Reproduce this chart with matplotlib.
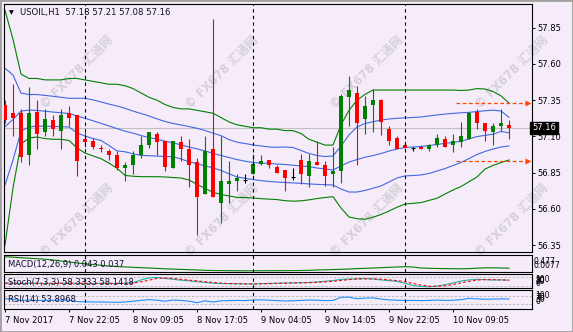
import matplotlib
matplotlib.use('Agg')
import matplotlib.pyplot as plt
from matplotlib.patches import Rectangle

# ---------------- data ----------------
opens = [57.32, 57.26, 57.26, 56.97, 57.27, 57.13, 57.21, 57.14, 57.26, 57.25,
         57.08, 57.07, 57.02, 57.00, 56.97, 56.88, 56.90, 56.97, 57.04, 57.12,
         57.07, 56.88, 57.06, 57.01, 56.92, 56.70, 57.01, 56.64, 56.77, 56.79,
         56.80, 56.84, 56.91, 56.94, 56.89, 56.87, 56.82, 56.94, 56.83, 56.92,
         56.90, 56.84, 56.86, 57.37, 57.40, 57.22, 57.32, 57.35, 57.15, 57.09,
         57.04, 57.02, 57.03, 57.01, 57.04, 57.08, 57.04, 57.06, 57.08, 57.27,
         57.19, 57.13, 57.17, 57.18]
highs = [57.35, 57.46, 57.29, 57.44, 57.35, 57.29, 57.25, 57.29, 57.31, 57.25,
         57.13, 57.09, 57.04, 57.01, 57.00, 56.92, 57.00, 57.10, 57.13, 57.13,
         57.07, 57.07, 57.10, 57.08, 56.95, 57.10, 57.91, 57.10, 56.93, 56.84,
         56.84, 56.98, 56.97, 56.94, 56.90, 56.87, 56.88, 56.98, 56.98, 57.07,
         56.93, 57.03, 57.39, 57.52, 57.45, 57.38, 57.43, 57.36, 57.17, 57.10,
         57.07, 57.03, 57.04, 57.05, 57.12, 57.10, 57.12, 57.20, 57.27, 57.29,
         57.19, 57.19, 57.29, 57.21]
lows = [57.19, 57.10, 56.92, 56.90, 57.01, 57.10, 57.10, 57.01, 57.17, 56.83,
        57.03, 57.01, 56.99, 56.94, 56.87, 56.79, 56.84, 56.95, 57.02, 56.97,
        56.86, 56.88, 56.93, 56.75, 56.42, 56.70, 56.68, 56.50, 56.64, 56.72,
        56.78, 56.84, 56.90, 56.88, 56.85, 56.72, 56.80, 56.77, 56.75, 56.90,
        56.76, 56.75, 56.78, 57.17, 56.90, 57.12, 57.13, 57.11, 57.04, 57.01,
        57.02, 57.00, 57.01, 57.00, 57.03, 57.03, 56.99, 57.03, 57.08, 57.15,
        57.07, 57.04, 57.14, 57.08]
closes = [57.21, 57.23, 56.96, 57.26, 57.12, 57.22, 57.15, 57.25, 57.23, 56.93,
          57.06, 57.03, 57.01, 56.97, 56.88, 56.90, 56.97, 57.04, 57.13, 57.06,
          56.89, 57.07, 57.01, 56.90, 56.68, 57.00, 56.68, 56.79, 56.79, 56.81,
          56.80, 56.91, 56.93, 56.90, 56.85, 56.81, 56.82, 56.84, 56.93, 56.90,
          56.83, 56.86, 57.38, 57.42, 57.19, 57.31, 57.35, 57.20, 57.07, 57.01,
          57.02, 57.02, 57.01, 57.04, 57.09, 57.03, 57.07, 57.10, 57.26, 57.19,
          57.14, 57.17, 57.19, 57.16]

# Bollinger-type bands (outer = green, inner = blue)
green_upper = [57.97, 57.77, 57.53, 57.50, 57.50, 57.49, 57.49, 57.49, 57.50, 57.50,
               57.49, 57.48, 57.47, 57.46, 57.46, 57.45, 57.43, 57.40, 57.37, 57.35,
               57.32, 57.30, 57.29, 57.29, 57.28, 57.27, 57.26, 57.23, 57.20, 57.18,
               57.17, 57.16, 57.16, 57.15, 57.15, 57.14, 57.14, 57.12, 57.08, 57.06,
               57.04, 57.04, 57.18, 57.28, 57.35, 57.39, 57.42, 57.42, 57.42, 57.42,
               57.42, 57.42, 57.42, 57.42, 57.42, 57.42, 57.42, 57.417, 57.42, 57.43,
               57.427, 57.41, 57.38, 57.33]
green_lower = [56.350, 56.744, 57.047, 57.089, 57.096, 57.085, 57.080, 57.080, 57.072, 57.020,
               56.985, 56.965, 56.946, 56.916, 56.880, 56.831, 56.825, 56.822, 56.822, 56.822,
               56.820, 56.816, 56.813, 56.799, 56.769, 56.742, 56.714, 56.699, 56.689, 56.679,
               56.678, 56.675, 56.670, 56.667, 56.664, 56.656, 56.653, 56.655, 56.662, 56.671,
               56.678, 56.684, 56.606, 56.544, 56.532, 56.528, 56.542, 56.561, 56.585, 56.611,
               56.633, 56.638, 56.643, 56.658, 56.673, 56.702, 56.730, 56.754, 56.787, 56.820,
               56.875, 56.899, 56.920, 56.937]
blue_upper = [57.570, 57.524, 57.399, 57.389, 57.389, 57.383, 57.377, 57.370, 57.363, 57.363,
              57.363, 57.352, 57.338, 57.323, 57.310, 57.294, 57.275, 57.258, 57.241, 57.221,
              57.203, 57.189, 57.179, 57.168, 57.156, 57.141, 57.122, 57.105, 57.078, 57.060,
              57.051, 57.041, 57.034, 57.027, 57.025, 57.027, 57.023, 57.003, 56.982, 56.968,
              56.961, 56.965, 57.034, 57.110, 57.165, 57.189, 57.201, 57.213, 57.220, 57.225,
              57.228, 57.231, 57.234, 57.241, 57.248, 57.254, 57.259, 57.263, 57.266, 57.272,
              57.277, 57.281, 57.275, 57.232]
blue_middle = [57.167, 57.217, 57.275, 57.282, 57.279, 57.274, 57.268, 57.263, 57.258, 57.241,
               57.225, 57.208, 57.190, 57.172, 57.154, 57.136, 57.123, 57.106, 57.092, 57.081,
               57.067, 57.056, 57.041, 57.027, 57.014, 56.999, 56.984, 56.968, 56.954, 56.940,
               56.929, 56.920, 56.916, 56.914, 56.909, 56.906, 56.901, 56.896, 56.891, 56.882,
               56.875, 56.868, 56.896, 56.923, 56.940, 56.956, 56.968, 56.982, 56.999, 57.013,
               57.023, 57.027, 57.030, 57.037, 57.044, 57.052, 57.058, 57.067, 57.082, 57.099,
               57.107, 57.115, 57.134, 57.125]
blue_lower = [56.764, 56.937, 57.137, 57.165, 57.172, 57.170, 57.169, 57.167, 57.165, 57.123,
              57.103, 57.085, 57.072, 57.037, 57.000, 56.994, 56.980, 56.969, 56.967, 56.964,
              56.961, 56.960, 56.944, 56.925, 56.911, 56.897, 56.883, 56.865, 56.842, 56.820,
              56.811, 56.802, 56.795, 56.789, 56.785, 56.782, 56.779, 56.776, 56.772, 56.769,
              56.767, 56.764, 56.737, 56.716, 56.716, 56.727, 56.742, 56.758, 56.785, 56.813,
              56.827, 56.830, 56.834, 56.844, 56.861, 56.878, 56.899, 56.920, 56.947, 56.975,
              56.996, 57.013, 57.027, 57.034]

macd_main = [0.441, 0.424, 0.406, 0.389, 0.372, 0.354, 0.327, 0.292, 0.257, 0.223,
             0.195, 0.171, 0.143, 0.118, 0.101, 0.087, 0.073, 0.060, 0.049, 0.035,
             0.021, 0.011, 0.001, -0.010, -0.020, -0.031, -0.038, -0.041, -0.044, -0.046,
             -0.047, -0.046, -0.045, -0.044, -0.043, -0.042, -0.040, -0.038, -0.031, -0.020,
             -0.013, -0.006, 0.004, 0.014, 0.028, 0.039, 0.049, 0.060, 0.073, 0.084,
             0.094, 0.084, 0.049, 0.039, 0.032, 0.028, 0.025, 0.021, 0.028, 0.042,
             0.056, 0.056, 0.049, 0.043]
stoch_main = [38, 36, 35, 37, 36, 34, 35, 37, 36, 35, 33, 34, 36, 35, 34, 36,
              40, 60, 74, 78, 70, 64, 58, 53, 47, 42, 36, 34, 33, 32, 31, 31,
              33, 35, 36, 38, 39, 40, 42, 45, 50, 56, 63, 66, 68, 69, 66, 60,
              55, 50, 36, 20, 14, 11, 16, 26, 38, 52, 60, 64, 62, 59, 60, 58.33]
stoch_signal = [36, 37, 36, 35, 36, 36, 35, 35, 36, 36, 35, 34, 34, 35, 35, 35,
                37, 46, 58, 71, 74, 71, 64, 58, 53, 47, 42, 37, 34, 33, 32, 31,
                32, 33, 35, 36, 38, 39, 40, 42, 46, 50, 56, 62, 66, 68, 68, 65,
                60, 55, 47, 35, 23, 15, 14, 18, 27, 39, 50, 59, 62, 62, 60, 58.14]
rsi_vals = [55, 52, 45, 48, 45, 47, 46, 48, 47, 40, 39, 38, 38, 37, 36, 38,
            42, 46, 50, 47, 42, 48, 46, 42, 34, 44, 38, 44, 45, 46, 45, 48,
            49, 47, 45, 43, 44, 46, 48, 47, 45, 46, 62, 63, 55, 58, 59, 53,
            49, 47, 46, 46, 45, 46, 48, 46, 47, 50, 57, 54, 52, 53, 54, 53.9]

price_ticks = [56.35, 56.60, 56.85, 57.10, 57.35, 57.60, 57.85]
time_labels = ['7 Nov 2017', '7 Nov 22:05', '8 Nov 09:05', '8 Nov 17:05',
               '9 Nov 04:05', '9 Nov 14:05', '9 Nov 22:05', '10 Nov 09:05']
time_label_bars = [0, 8, 16, 24, 32, 40, 48, 56]
day_separator_bars = [10, 31, 50]
current_price = 57.16
level_prices = [57.33, 56.93]
level_start_bar = 56.4
title_text = 'USOIL,H1  57.18 57.21 57.08 57.16'

# ---------------- figure ----------------
W, H = 573, 332
fig = plt.figure(figsize=(W / 100, H / 100), dpi=100)
BG = '#F5EBF9'
fig.patch.set_facecolor(BG)
plt.rcParams['font.family'] = ['DejaVu Sans', 'Noto Sans CJK SC']

XL = (-0.125, 65.875)


def add_ax(y0, y1, x0=4, x1=532):
    ax = fig.add_axes([x0 / W, 1 - y1 / H, (x1 - x0) / W, (y1 - y0) / H])
    ax.set_facecolor('none')
    for s in ax.spines.values():
        s.set_linewidth(0.8)
        s.set_color('black')
    ax.set_xticks([])
    ax.set_yticks([])
    ax.set_xlim(*XL)
    return ax


# watermarks (behind)
for cx in [77, 222, 367, 512]:
    for cy in [72, 220]:
        fig.text(cx / W, 1 - cy / H, '© FX678 汇通网', rotation=45, ha='center', va='center',
                 fontsize=8.5, fontweight='bold', color='#D6D0DA', zorder=-5,
                 family=['DejaVu Sans', 'Noto Sans CJK SC'])

ax = add_ax(4, 252)
ax.set_ylim(56.302, 58.014)

n = len(closes)
xs = list(range(n))
ax.plot(xs, green_upper, color='#008000', lw=0.8, zorder=2)
ax.plot(xs, green_lower, color='#008000', lw=0.8, zorder=2)
ax.plot(xs, blue_upper, color='#4169E1', lw=0.8, zorder=2)
ax.plot(xs, blue_middle, color='#4169E1', lw=0.8, zorder=2)
ax.plot(xs, blue_lower, color='#4169E1', lw=0.8, zorder=2)

ax.axhline(current_price, color='#C0C0C0', lw=0.8, zorder=1)

for k in xs:
    o, h, l, c = opens[k], highs[k], lows[k], closes[k]
    if c > o:
        col = '#008000'
    elif c < o:
        col = '#FF0000'
    else:
        col = 'black'
    ax.vlines(k, l, h, color=col, lw=0.8, zorder=3)
    if c == o:
        ax.hlines(c, k - 0.3, k + 0.3, color=col, lw=0.8, zorder=3)
    else:
        ax.add_patch(Rectangle((k - 0.3, min(o, c)), 0.6, abs(c - o),
                               facecolor=col, edgecolor='none', zorder=4))

for lv in level_prices:
    ax.plot([level_start_bar, XL[1] - 0.5], [lv, lv], color='#FF4A00', lw=0.9,
            dashes=(3, 2), zorder=3)
    ax.plot([XL[1] - 0.5], [lv], marker='>', ms=4, color='#FF4A00', mec='none', zorder=3)

ax.yaxis.tick_right()
ax.set_yticks(price_ticks)
ax.set_yticklabels(['%.2f' % v for v in price_ticks])
ax.tick_params(axis='y', direction='out', length=2.5, width=0.7, pad=1.5,
               labelsize=6, colors='black')

ax.text(1.0, current_price, '57.16', transform=ax.get_yaxis_transform(),
        color='white', fontsize=6, va='center', ha='left',
        bbox=dict(boxstyle='square,pad=0.2', fc='black', ec='black'), zorder=10,
        clip_on=False)

fig.text(9 / W, 1 - 12.5 / H, '▼', fontsize=4.5, va='center', ha='left', color='black')
fig.text(20 / W, 1 - 12.5 / H, title_text, fontsize=6.1, va='center', ha='left',
         color='#101020')

# MACD panel
axm = add_ax(255, 272.3)
axm.set_ylim(-0.10, 0.50)
axm.plot(xs, macd_main, color='#008000', lw=0.8)
axm.text(0.008, 0.45, 'MACD(12,26,9) 0.043 0.037', transform=axm.transAxes,
         fontsize=6, va='center', ha='left', color='#101030')
fig.text(534 / W, 1 - 261 / H, '0.477', fontsize=5.5, va='center', ha='left')
fig.text(534 / W, 1 - 265.5 / H, '0.0077', fontsize=5.5, va='center', ha='left')

# Stochastic panel
axs = add_ax(274.3, 288.3)
axs.set_ylim(0, 100)
for lv in (20, 80):
    axs.axhline(lv, color='#B8B8B8', lw=0.6, dashes=(3, 2))
axs.plot(xs, stoch_main, color='#20B2AA', lw=0.8)
axs.plot(xs, stoch_signal, color='#FF0000', lw=0.8, dashes=(2.5, 2))
axs.text(0.008, 0.42, 'Stoch(7,3,3) 58.3333 58.1418', transform=axs.transAxes,
         fontsize=6, va='center', ha='left', color='#101030')
for lab, yy in [('100', 279.5), ('80', 280.5), ('20', 282), ('0', 283)]:
    fig.text(535 / W, 1 - yy / H, lab, fontsize=5.5, va='center', ha='left')

# RSI panel
axr = add_ax(290, 309.3)
axr.set_ylim(0, 100)
for lv in (30, 70):
    axr.axhline(lv, color='#B8B8B8', lw=0.6, dashes=(3, 2))
axr.plot(xs, rsi_vals, color='#1E90FF', lw=0.8)
axr.text(0.008, 0.5, 'RSI(14) 53.8968', transform=axr.transAxes,
         fontsize=6, va='center', ha='left', color='#101030')
for lab, yy in [('100', 296), ('70', 297.5), ('30', 300), ('0', 301.5)]:
    fig.text(535 / W, 1 - yy / H, lab, fontsize=5.5, va='center', ha='left')

axr.set_xticks(time_label_bars)
axr.set_xticklabels(time_labels, ha='left')
axr.tick_params(axis='x', direction='out', length=2.5, width=0.7, pad=2,
                labelsize=6, colors='black')

for a in (ax, axm, axs, axr):
    for b in day_separator_bars:
        a.axvline(b, color='black', lw=0.8, dashes=(3, 3), zorder=5)

# outer frame
fig.patches.append(Rectangle((0, 0), 1, 1, transform=fig.transFigure, fill=False,
                             edgecolor='#A0A0A0', lw=2, zorder=20))

fig.savefig('out.png', dpi=100, facecolor=BG)
